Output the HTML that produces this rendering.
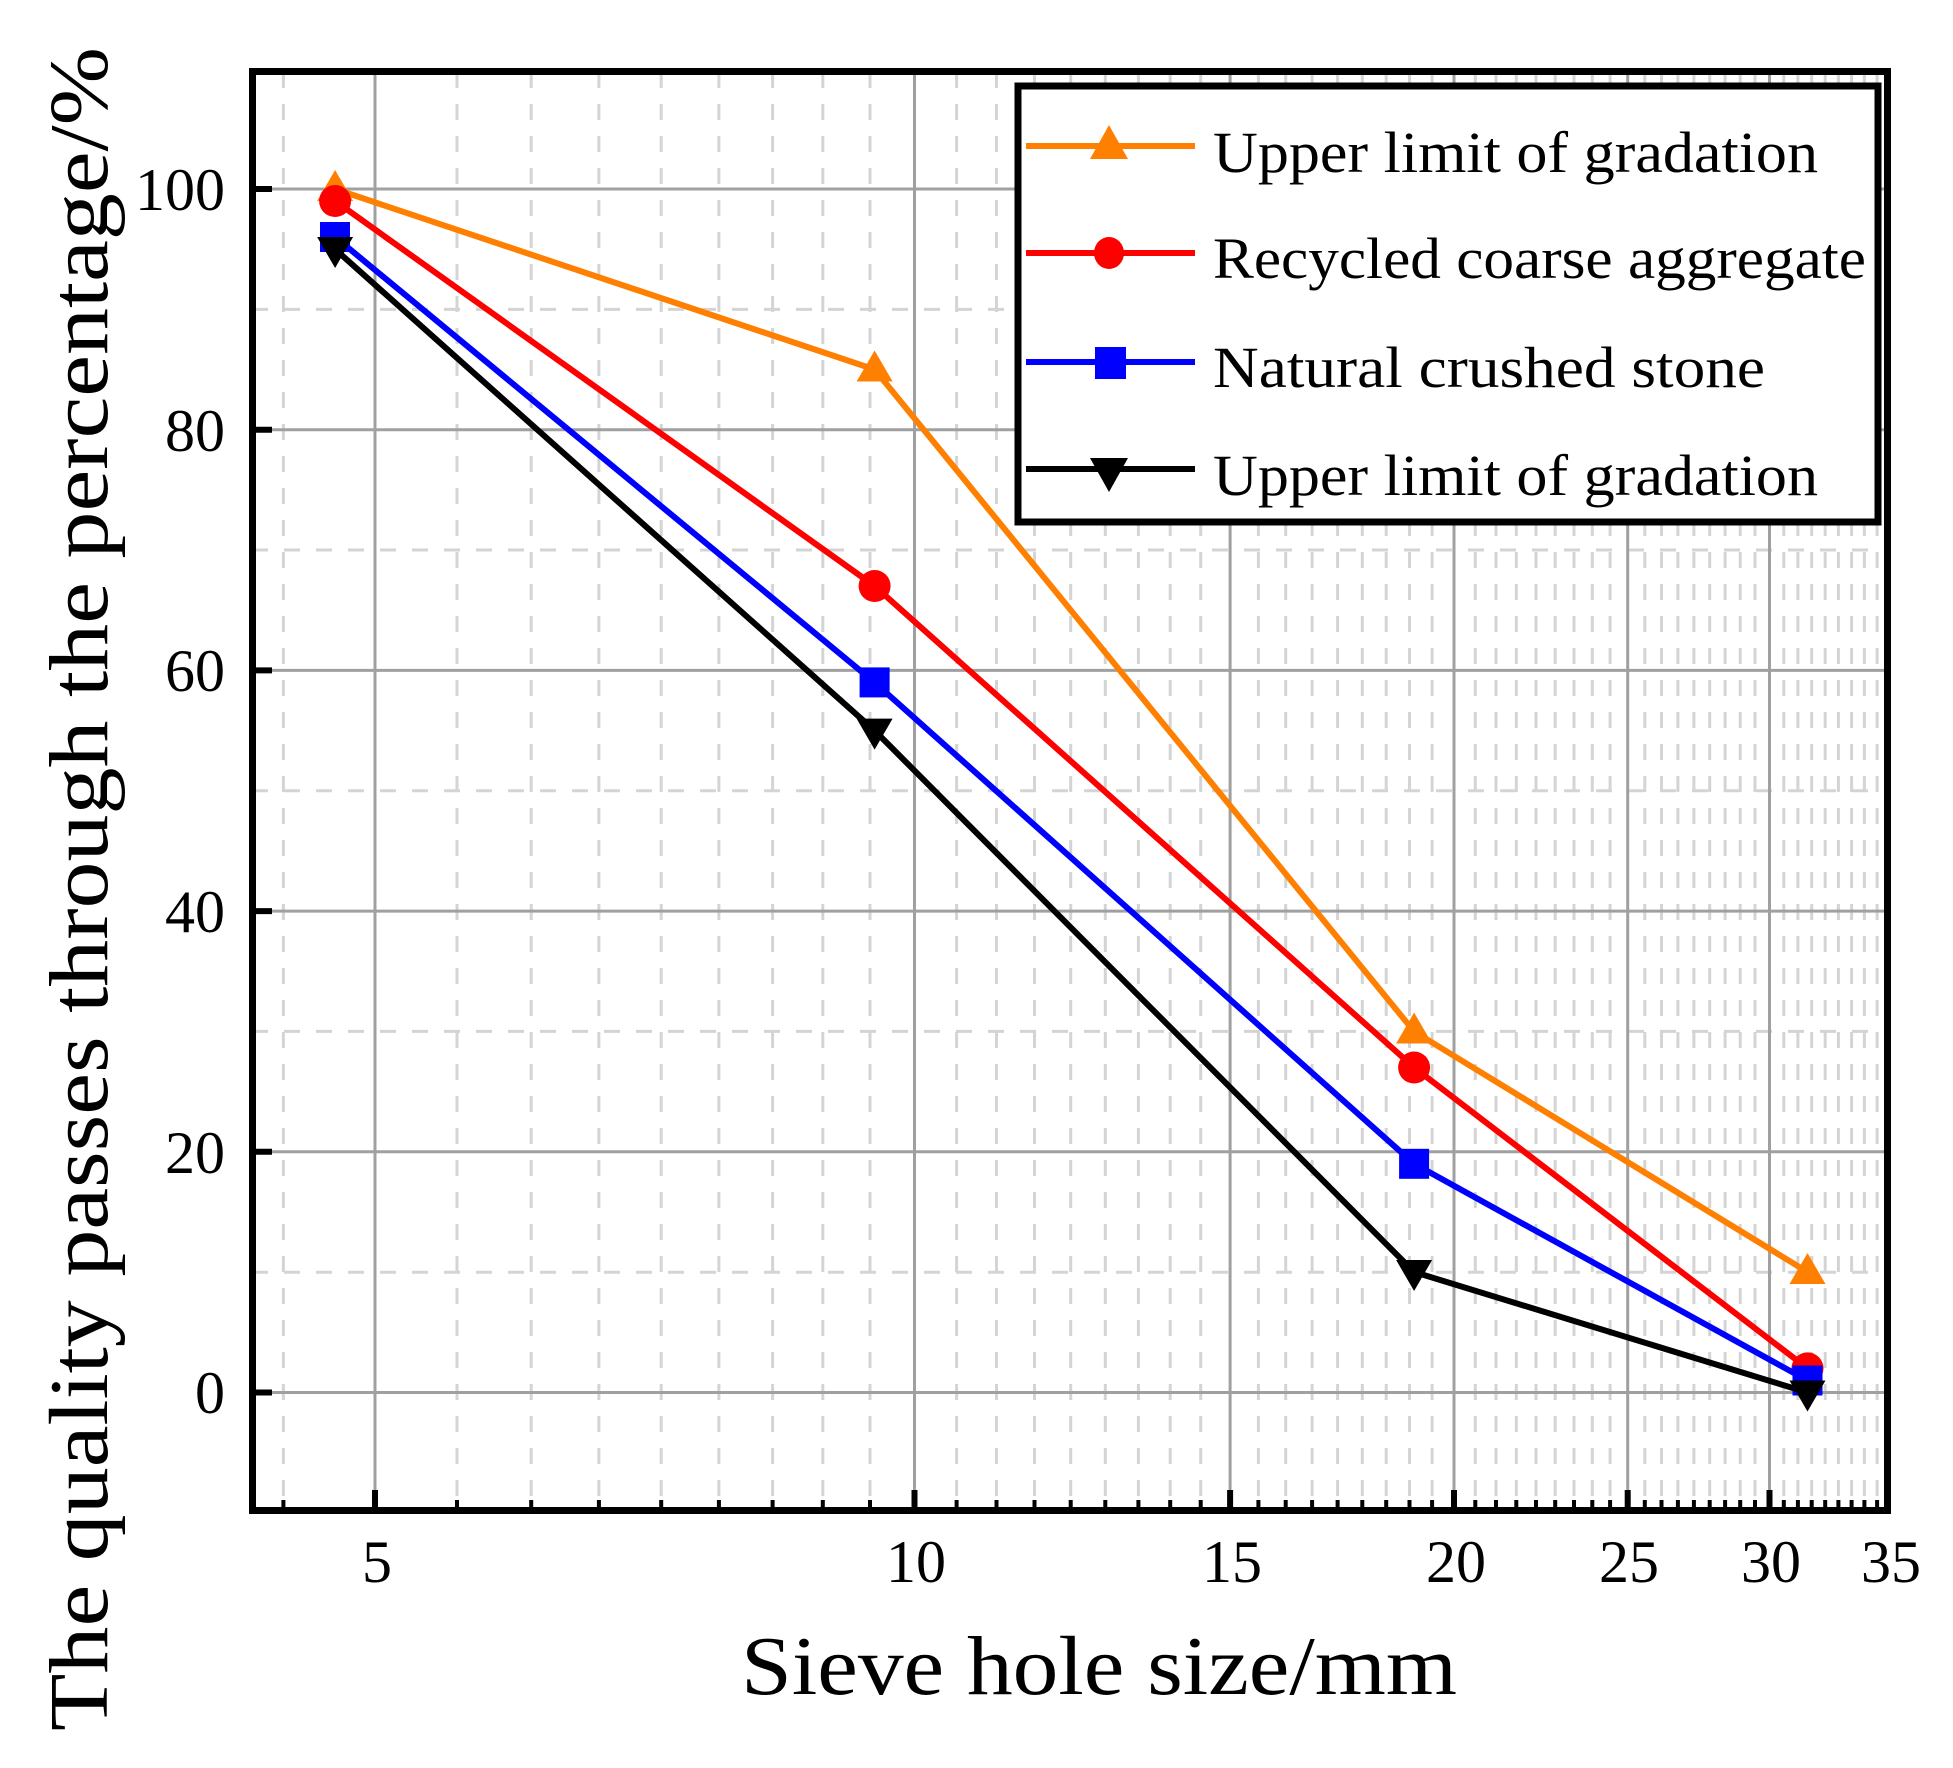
<!DOCTYPE html>
<html><head><meta charset="utf-8"><style>html,body{margin:0;padding:0;background:#fff}svg{display:block}</style></head>
<body>
<svg width="1953" height="1768" viewBox="0 0 1953 1768" xmlns="http://www.w3.org/2000/svg" font-family="'Liberation Serif', serif">
<rect width="1953" height="1768" fill="#fff"/>
<g stroke="#d4d4d4" stroke-width="3" stroke-dasharray="16,16">
<path d="M283.4 72V1510M457 72V1510M531.2 72V1510M598.9 72V1510M661.2 72V1510M718.9 72V1510M772.6 72V1510M822.8 72V1510M870 72V1510M956.6 72V1510M996.5 72V1510M1034.5 72V1510M1070.7 72V1510M1105.3 72V1510M1138.4 72V1510M1170.2 72V1510M1200.7 72V1510M1258.4 72V1510M1285.7 72V1510M1312.1 72V1510M1337.6 72V1510M1362.3 72V1510M1386.2 72V1510M1409.5 72V1510M1432.1 72V1510M1475.3 72V1510M1496 72V1510M1516.3 72V1510M1536 72V1510M1555.2 72V1510M1574 72V1510M1592.3 72V1510M1610.1 72V1510M1644.8 72V1510M1661.5 72V1510M1677.9 72V1510M1693.9 72V1510M1709.7 72V1510M1725.1 72V1510M1740.2 72V1510M1755 72V1510M1783.8 72V1510M1797.9 72V1510M1811.7 72V1510M1825.2 72V1510M1838.4 72V1510M1851.6 72V1510M1864.4 72V1510M1877.1 72V1510"/>
<path d="M252 1272.2H1888M252 1031.4H1888M252 790.8H1888M252 550H1888M252 309.4H1888"/>
</g>
<g stroke="#a0a0a0" stroke-width="3">
<path d="M375 72V1510M914.5 72V1510M1230.1 72V1510M1454 72V1510M1627.7 72V1510M1769.5 72V1510"/>
<path d="M252 1392.5H1888M252 1151.8H1888M252 911.1H1888M252 670.4H1888M252 429.7H1888M252 189H1888"/>
</g>
<g stroke="#000" stroke-width="4">
<path d="M283.4 1510v-10M457 1510v-10M531.2 1510v-10M598.9 1510v-10M661.2 1510v-10M718.9 1510v-10M772.6 1510v-10M822.8 1510v-10M870 1510v-10M956.6 1510v-10M996.5 1510v-10M1034.5 1510v-10M1070.7 1510v-10M1105.3 1510v-10M1138.4 1510v-10M1170.2 1510v-10M1200.7 1510v-10M1258.4 1510v-10M1285.7 1510v-10M1312.1 1510v-10M1337.6 1510v-10M1362.3 1510v-10M1386.2 1510v-10M1409.5 1510v-10M1432.1 1510v-10M1475.3 1510v-10M1496 1510v-10M1516.3 1510v-10M1536 1510v-10M1555.2 1510v-10M1574 1510v-10M1592.3 1510v-10M1610.1 1510v-10M1644.8 1510v-10M1661.5 1510v-10M1677.9 1510v-10M1693.9 1510v-10M1709.7 1510v-10M1725.1 1510v-10M1740.2 1510v-10M1755 1510v-10M1783.8 1510v-10M1797.9 1510v-10M1811.7 1510v-10M1825.2 1510v-10M1838.4 1510v-10M1851.6 1510v-10M1864.4 1510v-10M1877.1 1510v-10"/>
</g>
<g stroke="#000" stroke-width="6">
<path d="M375 1510v-20M914.5 1510v-20M1230.1 1510v-20M1454 1510v-20M1627.7 1510v-20M1769.5 1510v-20"/>
<path d="M252 1392.5h20M252 1151.8h20M252 911.1h20M252 670.4h20M252 429.7h20M252 189h20"/>
</g>
<polyline points="335.1,189 874.6,369.5 1414.1,1031.5 1807.5,1272" stroke="#ff8000" stroke-width="6" fill="none" stroke-linejoin="round"/>
<g fill="#ff8000">
<path d="M335.1 170l18 31h-36z"/><path d="M874.6 350.5l18 31h-36z"/><path d="M1414.1 1012.5l18 31h-36z"/><path d="M1807.5 1253l18 31h-36z"/>
</g>
<polyline points="335.1,201 874.6,586 1414.1,1067.5 1807.5,1368.4" stroke="#ff0000" stroke-width="6" fill="none" stroke-linejoin="round"/>
<g fill="#ff0000"><circle cx="335.1" cy="201" r="16"/><circle cx="874.6" cy="586" r="16"/><circle cx="1414.1" cy="1067.5" r="16"/><circle cx="1807.5" cy="1368.4" r="16"/></g>
<polyline points="335.1,237 874.6,682.4 1414.1,1163.8 1807.5,1380.5" stroke="#0000ff" stroke-width="6" fill="none" stroke-linejoin="round"/>
<g fill="#0000ff"><rect x="320" y="222" width="30" height="30"/><rect x="859.6" y="667.4" width="30" height="30"/><rect x="1399.1" y="1148.8" width="30" height="30"/><rect x="1792.5" y="1365.5" width="30" height="30"/></g>
<polyline points="335.1,249.2 874.6,730.6 1414.1,1272 1807.5,1392.5" stroke="#000" stroke-width="6" fill="none" stroke-linejoin="round"/>
<g fill="#000"><path d="M335.1 268l18-31h-36z"/><path d="M874.6 749.6l18-31h-36z"/><path d="M1414.1 1291l18-31h-36z"/><path d="M1807.5 1411.5l18-31h-36z"/></g>
<rect x="252.5" y="71.5" width="1635" height="1439" fill="none" stroke="#000" stroke-width="7"/>
<rect x="1018" y="86" width="860" height="436" fill="#fff" stroke="#000" stroke-width="7"/>
<g stroke-width="6">
<path d="M1026 146H1195" stroke="#ff8000"/><path d="M1026 253H1195" stroke="#ff0000"/><path d="M1026 362H1195" stroke="#0000ff"/><path d="M1026 469H1195" stroke="#000"/>
</g>
<path d="M1109 125l19 34h-38z" fill="#ff8000"/>
<ellipse cx="1109" cy="253" rx="15" ry="16" fill="#ff0000"/>
<rect x="1095" y="347" width="31" height="32" fill="#0000ff"/>
<path d="M1109 492l19-34h-38z" fill="#000"/>
<g font-size="58" fill="#000">
<text x="1213" y="172" textLength="605" lengthAdjust="spacingAndGlyphs">Upper limit of gradation</text>
<text x="1213" y="278" textLength="653" lengthAdjust="spacingAndGlyphs">Recycled coarse aggregate</text>
<text x="1213" y="387" textLength="552" lengthAdjust="spacingAndGlyphs">Natural crushed stone</text>
<text x="1213" y="495" textLength="605" lengthAdjust="spacingAndGlyphs">Upper limit of gradation</text>
</g>
<g font-size="60" fill="#000" text-anchor="end">
<text x="225" y="1413">0</text><text x="225" y="1173">20</text><text x="225" y="932">40</text><text x="225" y="691">60</text><text x="225" y="451">80</text><text x="225" y="210">100</text>
</g>
<g font-size="60" fill="#000" text-anchor="middle">
<text x="377" y="1582">5</text><text x="916" y="1582">10</text><text x="1232" y="1582">15</text><text x="1456" y="1582">20</text><text x="1629" y="1582">25</text><text x="1771" y="1582">30</text><text x="1891" y="1582">35</text>
</g>
<text x="1099" y="1694" font-size="84" text-anchor="middle" textLength="716" lengthAdjust="spacingAndGlyphs">Sieve hole size/mm</text>
<text transform="translate(107,889) rotate(-90)" font-size="84" text-anchor="middle" textLength="1684" lengthAdjust="spacingAndGlyphs">The quality passes through the percentage/%</text>
</svg>
</body></html>
